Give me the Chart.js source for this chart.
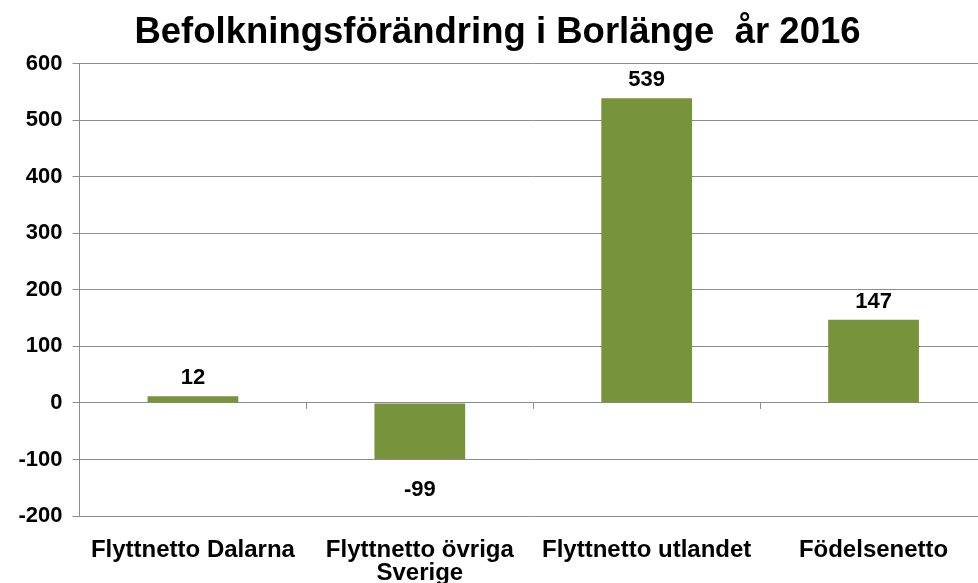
<!DOCTYPE html>
<html>
<head>
<meta charset="utf-8">
<script src="https://cdn.jsdelivr.net/npm/chart.js@4/dist/chart.umd.min.js"></script>
<style>
  html, body { margin: 0; padding: 0; background: #fff; overflow: hidden; }
  #wrap { width: 990px; height: 583px; }
</style>
</head>
<body>
<div id="wrap"><canvas id="bar-chart"></canvas></div>
<script>
const categories = ["Flyttnetto Dalarna", ["Flyttnetto övriga", "Sverige"], "Flyttnetto utlandet", "Födelsenetto"];
const values = [12, -99, 539, 147];
const yTicks = [-200, -100, 0, 100, 200, 300, 400, 500, 600];

const FONT = "'Liberation Sans', Arial, sans-serif";
const GRID = '#8c8c8c';

// value labels above / below each bar
const valueLabels = {
    id: 'valueLabels',
    afterDatasetsDraw(chart) {
        const ctx = chart.ctx;
        const meta = chart.getDatasetMeta(0);
        ctx.save();
        ctx.font = 'bold 22px ' + FONT;
        ctx.fillStyle = '#000';
        ctx.textAlign = 'center';
        ctx.textBaseline = 'middle';
        meta.data.forEach((bar, i) => {
            const v = values[i];
            const y = v >= 0 ? bar.y - 18 : bar.y + 31;
            ctx.fillText(String(v), bar.x, y);
        });
        ctx.restore();
    }
};

// small tick marks between categories on the zero line
const zeroTicks = {
    id: 'zeroTicks',
    afterDraw(chart) {
        const ctx = chart.ctx;
        const x = chart.scales.x;
        const y0 = chart.scales.y.getPixelForValue(0);
        ctx.save();
        ctx.strokeStyle = GRID;
        ctx.lineWidth = 1;
        for (let i = 1; i < categories.length; i++) {
            const px = Math.round((x.getPixelForValue(i - 1) + x.getPixelForValue(i)) / 2) + 0.5;
            ctx.beginPath();
            ctx.moveTo(px, y0);
            ctx.lineTo(px, y0 + 6);
            ctx.stroke();
        }
        ctx.restore();
    }
};

new Chart(document.getElementById("bar-chart"), {
    type: 'bar',
    data: {
        labels: categories,
        datasets: [
            {
                label: "Befolkningsförändring",
                backgroundColor: "#77933C",
                data: values,
                barPercentage: 0.8,
                categoryPercentage: 0.5
            }
        ]
    },
    options: {
        responsive: true,
        maintainAspectRatio: false,
        animation: false,
        layout: { padding: { left: 8, right: 3, top: 0, bottom: 0 } },
        plugins: {
            legend: { display: false },
            tooltip: { enabled: false },
            title: {
                display: true,
                text: 'Befolkningsförändring i Borlänge  år 2016',
                color: '#000',
                font: { family: FONT, size: 36.5, weight: 'bold', lineHeight: 1.2 },
                padding: { top: 11, bottom: 9 }
            }
        },
        scales: {
            x: {
                afterFit(scale) { scale.height = 67; },
                grid: { display: false, drawTicks: false },
                border: { display: false },
                ticks: {
                    color: '#000',
                    font: { family: FONT, size: 24, weight: 'bold', lineHeight: 0.96 },
                    padding: 23,
                    maxRotation: 0,
                    autoSkip: false
                }
            },
            y: {
                min: -200,
                max: 600,
                afterBuildTicks(scale) {
                    scale.ticks = yTicks.map(v => ({ value: v }));
                },
                afterFit(scale) { scale.width = 71.5; },
                grid: { color: GRID, lineWidth: 1, tickLength: 7 },
                border: { display: true, color: GRID, width: 1 },
                ticks: {
                    color: '#000',
                    font: { family: FONT, size: 22, weight: 'bold' },
                    padding: 10
                }
            }
        }
    },
    plugins: [valueLabels, zeroTicks]
});
</script>
</body>
</html>
